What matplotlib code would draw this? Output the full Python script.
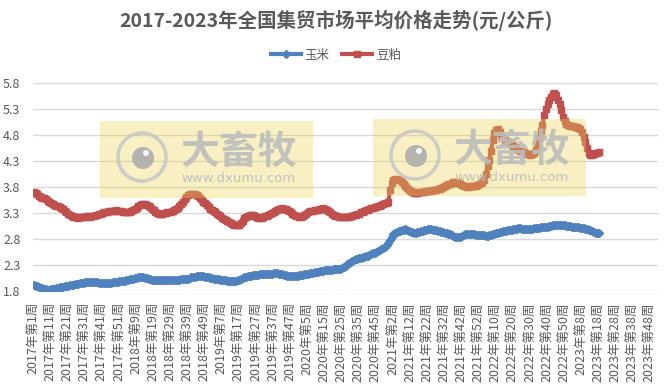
import numpy as np
import matplotlib
matplotlib.use("Agg")
import matplotlib.pyplot as plt
from matplotlib.patches import Rectangle, Circle

plt.rcParams['font.family'] = ['Noto Sans CJK SC', 'DejaVu Sans']

# 每年的周数 (2020年有53周)
years = [2017, 2018, 2019, 2020, 2021, 2022, 2023]
weeks_per_year = [52, 52, 52, 53, 52, 52, 52]

# 玉米 (元/公斤), 按年
corn_2017 = [1.92, 1.90, 1.89, 1.88, 1.86, 1.85, 1.84, 1.83, 1.82, 1.82,
             1.83, 1.84, 1.84, 1.85, 1.86, 1.87, 1.87, 1.88, 1.89, 1.90,
             1.90, 1.91, 1.92, 1.92, 1.93, 1.93, 1.94, 1.95, 1.96, 1.96,
             1.97, 1.97, 1.97, 1.98, 1.98, 1.98, 1.97, 1.97, 1.96, 1.96,
             1.95, 1.95, 1.95, 1.95, 1.95, 1.96, 1.97, 1.97, 1.98, 1.98,
             1.99, 1.99]
corn_2018 = [2.00, 2.00, 2.01, 2.02, 2.03, 2.03, 2.04, 2.05, 2.05, 2.06,
             2.06, 2.06, 2.06, 2.05, 2.05, 2.04, 2.03, 2.02, 2.02, 2.01,
             2.01, 2.01, 2.01, 2.01, 2.02, 2.02, 2.02, 2.02, 2.02, 2.02,
             2.02, 2.02, 2.02, 2.02, 2.03, 2.03, 2.03, 2.03, 2.04, 2.05,
             2.06, 2.07, 2.07, 2.08, 2.08, 2.08, 2.08, 2.08, 2.07, 2.06,
             2.06, 2.05]
corn_2019 = [2.05, 2.04, 2.04, 2.04, 2.03, 2.02, 2.02, 2.01, 2.01, 2.00,
             2.00, 1.99, 1.99, 1.99, 2.00, 2.01, 2.02, 2.03, 2.05, 2.06,
             2.07, 2.08, 2.08, 2.09, 2.10, 2.10, 2.11, 2.11, 2.12, 2.12,
             2.12, 2.12, 2.12, 2.13, 2.13, 2.13, 2.14, 2.14, 2.14, 2.13,
             2.12, 2.12, 2.11, 2.10, 2.09, 2.09, 2.08, 2.08, 2.08, 2.08,
             2.09, 2.10]
corn_2020 = [2.10, 2.11, 2.12, 2.13, 2.13, 2.14, 2.14, 2.15, 2.16, 2.17,
             2.17, 2.18, 2.19, 2.19, 2.20, 2.20, 2.21, 2.21, 2.21, 2.22,
             2.22, 2.22, 2.22, 2.23, 2.25, 2.27, 2.29, 2.31, 2.33, 2.35,
             2.37, 2.39, 2.41, 2.42, 2.43, 2.44, 2.45, 2.46, 2.47, 2.48,
             2.50, 2.51, 2.53, 2.54, 2.55, 2.57, 2.58, 2.60, 2.63, 2.65,
             2.68, 2.72, 2.78]
corn_2021 = [2.84, 2.89, 2.91, 2.93, 2.95, 2.96, 2.97, 2.98, 2.99, 2.98,
             2.96, 2.94, 2.93, 2.92, 2.92, 2.93, 2.94, 2.95, 2.96, 2.97,
             2.98, 2.99, 2.99, 2.99, 2.98, 2.97, 2.97, 2.96, 2.95, 2.94,
             2.93, 2.92, 2.91, 2.90, 2.89, 2.87, 2.85, 2.84, 2.83, 2.83,
             2.84, 2.86, 2.88, 2.89, 2.90, 2.90, 2.90, 2.89, 2.89, 2.88,
             2.88, 2.88]
corn_2022 = [2.88, 2.87, 2.87, 2.86, 2.86, 2.87, 2.88, 2.89, 2.90, 2.91,
             2.92, 2.93, 2.94, 2.95, 2.96, 2.96, 2.97, 2.98, 2.98, 2.99,
             3.00, 3.00, 3.01, 3.01, 3.00, 3.00, 2.99, 2.99, 2.99, 3.00,
             3.00, 3.01, 3.01, 3.02, 3.02, 3.03, 3.03, 3.04, 3.04, 3.04,
             3.05, 3.05, 3.06, 3.06, 3.07, 3.07, 3.07, 3.07, 3.06, 3.06,
             3.05, 3.05]
corn_2023 = [3.05, 3.04, 3.04, 3.04, 3.03, 3.03, 3.02, 3.02, 3.01, 3.00,
             2.99, 2.98, 2.97, 2.96, 2.94, 2.92, 2.91, 2.91]

# 豆粕 (元/公斤), 按年
meal_2017 = [3.70, 3.68, 3.66, 3.63, 3.61, 3.59, 3.58, 3.56, 3.54, 3.52,
             3.50, 3.48, 3.46, 3.44, 3.43, 3.41, 3.39, 3.37, 3.34, 3.31,
             3.28, 3.26, 3.24, 3.23, 3.22, 3.22, 3.21, 3.22, 3.23, 3.23,
             3.23, 3.24, 3.24, 3.23, 3.24, 3.25, 3.26, 3.27, 3.28, 3.29,
             3.30, 3.31, 3.31, 3.32, 3.33, 3.33, 3.34, 3.34, 3.35, 3.34,
             3.34, 3.33]
meal_2018 = [3.32, 3.31, 3.31, 3.31, 3.31, 3.33, 3.36, 3.38, 3.40, 3.43,
             3.45, 3.47, 3.48, 3.47, 3.45, 3.44, 3.42, 3.38, 3.35, 3.32,
             3.30, 3.29, 3.29, 3.29, 3.30, 3.30, 3.31, 3.31, 3.32, 3.34,
             3.36, 3.38, 3.40, 3.43, 3.47, 3.52, 3.57, 3.61, 3.64, 3.66,
             3.67, 3.67, 3.66, 3.64, 3.62, 3.59, 3.55, 3.52, 3.49, 3.45,
             3.42, 3.38]
meal_2019 = [3.35, 3.33, 3.31, 3.29, 3.27, 3.24, 3.21, 3.19, 3.17, 3.15,
             3.13, 3.10, 3.08, 3.07, 3.06, 3.06, 3.07, 3.10, 3.15, 3.20,
             3.23, 3.25, 3.26, 3.26, 3.26, 3.24, 3.22, 3.21, 3.20, 3.21,
             3.22, 3.24, 3.25, 3.27, 3.28, 3.30, 3.32, 3.34, 3.36, 3.37,
             3.38, 3.39, 3.38, 3.37, 3.35, 3.33, 3.31, 3.29, 3.27, 3.25,
             3.24, 3.23]
meal_2020 = [3.23, 3.24, 3.26, 3.28, 3.31, 3.33, 3.34, 3.34, 3.35, 3.35,
             3.36, 3.37, 3.38, 3.39, 3.38, 3.36, 3.33, 3.31, 3.29, 3.27,
             3.25, 3.24, 3.23, 3.23, 3.22, 3.22, 3.22, 3.23, 3.23, 3.24,
             3.25, 3.26, 3.27, 3.28, 3.29, 3.31, 3.32, 3.33, 3.35, 3.36,
             3.38, 3.39, 3.40, 3.41, 3.42, 3.43, 3.44, 3.46, 3.47, 3.49,
             3.50, 3.52, 3.74]
meal_2021 = [3.88, 3.93, 3.95, 3.95, 3.94, 3.93, 3.90, 3.86, 3.82, 3.78,
             3.75, 3.72, 3.70, 3.68, 3.68, 3.69, 3.70, 3.71, 3.71, 3.71,
             3.72, 3.72, 3.73, 3.73, 3.74, 3.74, 3.75, 3.76, 3.77, 3.79,
             3.80, 3.81, 3.83, 3.85, 3.86, 3.88, 3.89, 3.90, 3.89, 3.87,
             3.85, 3.83, 3.82, 3.81, 3.80, 3.80, 3.81, 3.81, 3.82, 3.82,
             3.84, 3.86]
meal_2022 = [3.88, 3.90, 3.93, 4.05, 4.20, 4.32, 4.50, 4.70, 4.83, 4.90,
             4.91, 4.86, 4.79, 4.74, 4.70, 4.68, 4.66, 4.64, 4.61, 4.58,
             4.56, 4.54, 4.52, 4.50, 4.49, 4.48, 4.46, 4.44, 4.43, 4.42,
             4.43, 4.46, 4.52, 4.60, 4.72, 4.88, 5.00, 5.18, 5.30, 5.40,
             5.47, 5.53, 5.58, 5.60, 5.56, 5.48, 5.40, 5.28, 5.15, 5.06,
             5.01, 4.99]
meal_2023 = [4.98, 4.97, 4.97, 4.96, 4.95, 4.93, 4.91, 4.86, 4.76, 4.66,
             4.55, 4.46, 4.42, 4.41, 4.43, 4.45, 4.46, 4.47]

corn = corn_2017 + corn_2018 + corn_2019 + corn_2020 + corn_2021 + corn_2022 + corn_2023
meal = meal_2017 + meal_2018 + meal_2019 + meal_2020 + meal_2021 + meal_2022 + meal_2023

# 类别轴: 每一周一个类别
categories = []
for y, n in zip(years, weeks_per_year):
    for w in range(1, n + 1):
        categories.append(f"{y}年第{w}周")

grey = '#595959'
blue = '#4F81BD'
red = '#C0504D'

fig = plt.figure(figsize=(6.72, 3.86), dpi=100)
ax = fig.add_axes([33 / 672, 1 - 291 / 386, 625 / 672, 208 / 386])

ax.plot(np.arange(len(corn)), corn, color=blue, lw=3.0, marker='D', ms=4.0,
        mec=blue, mfc=blue, label='玉米')
ax.plot(np.arange(len(meal)), meal, color=red, lw=3.0, marker='s', ms=4.2,
        mec=red, mfc=red, label='豆粕')

ax.set_xlim(-0.5, len(categories) - 0.5)
ax.set_ylim(1.8, 5.8)
ax.set_yticks(np.arange(1.8, 5.81, 0.5))
ax.set_yticklabels([f"{v:.1f}" for v in np.arange(1.8, 5.81, 0.5)])
tick_pos = list(range(0, len(categories), 10))
ax.set_xticks(tick_pos)
ax.set_xticklabels([categories[i] for i in tick_pos], rotation=90, va='top', ha='center')
ax.tick_params(axis='both', length=0, labelsize=9, labelcolor=grey)
ax.tick_params(axis='y', pad=9)
ax.tick_params(axis='x', pad=8)
ax.grid(axis='y', color='#D9D9D9', lw=1)
ax.set_axisbelow(True)
for s in ax.spines.values():
    s.set_visible(False)

fig.suptitle('2017-2023年全国集贸市场平均价格走势(元/公斤)', x=0.5, y=0.975,
             fontsize=14, fontweight='bold', color=grey)
fig.legend(loc='center', bbox_to_anchor=(0.5, 1 - 55 / 386), ncol=2, frameon=False,
           fontsize=9, labelcolor=grey, handlelength=2.4, columnspacing=1.0,
           handletextpad=0.3)


# 水印 (大畜牧), 坐标用像素 -> 英寸
def watermark(x0, y0):
    H = 386
    tr = fig.dpi_scale_trans
    fig.add_artist(Rectangle((x0 / 100, (H - y0 - 77) / 100), 2.13, 0.77,
                             transform=tr, facecolor=(0.92, 0.84, 0.32),
                             alpha=0.35, edgecolor='none', zorder=5))
    cx, cy = x0 + 42, y0 + 36
    fig.add_artist(Circle((cx / 100, (H - cy) / 100), 0.24, transform=tr,
                          facecolor='none', edgecolor='#C8C8C8', lw=2.5, alpha=0.9, zorder=6))
    fig.add_artist(Circle(((cx + 1) / 100, (H - cy - 1) / 100), 0.11, transform=tr,
                          facecolor='#ADADAD', edgecolor='none', alpha=0.9, zorder=6))
    fig.add_artist(Circle(((cx + 4) / 100, (H - cy + 4) / 100), 0.03, transform=tr,
                          facecolor='white', edgecolor='none', alpha=0.9, zorder=7))
    fig.text((x0 + 139) / 672, 1 - (y0 + 31) / H, '大畜牧', ha='center', va='center',
             fontsize=28, fontweight='bold', color='#BDBDBD', alpha=0.9, zorder=6)
    fig.text((x0 + 139) / 672, 1 - (y0 + 58) / H, 'www.dxumu.com', ha='center', va='center',
             fontsize=9.5, color='#BDBDBD', alpha=0.9, zorder=6, family='DejaVu Sans')


watermark(100, 121)
watermark(373, 119)

fig.savefig('out.png', dpi=100)
